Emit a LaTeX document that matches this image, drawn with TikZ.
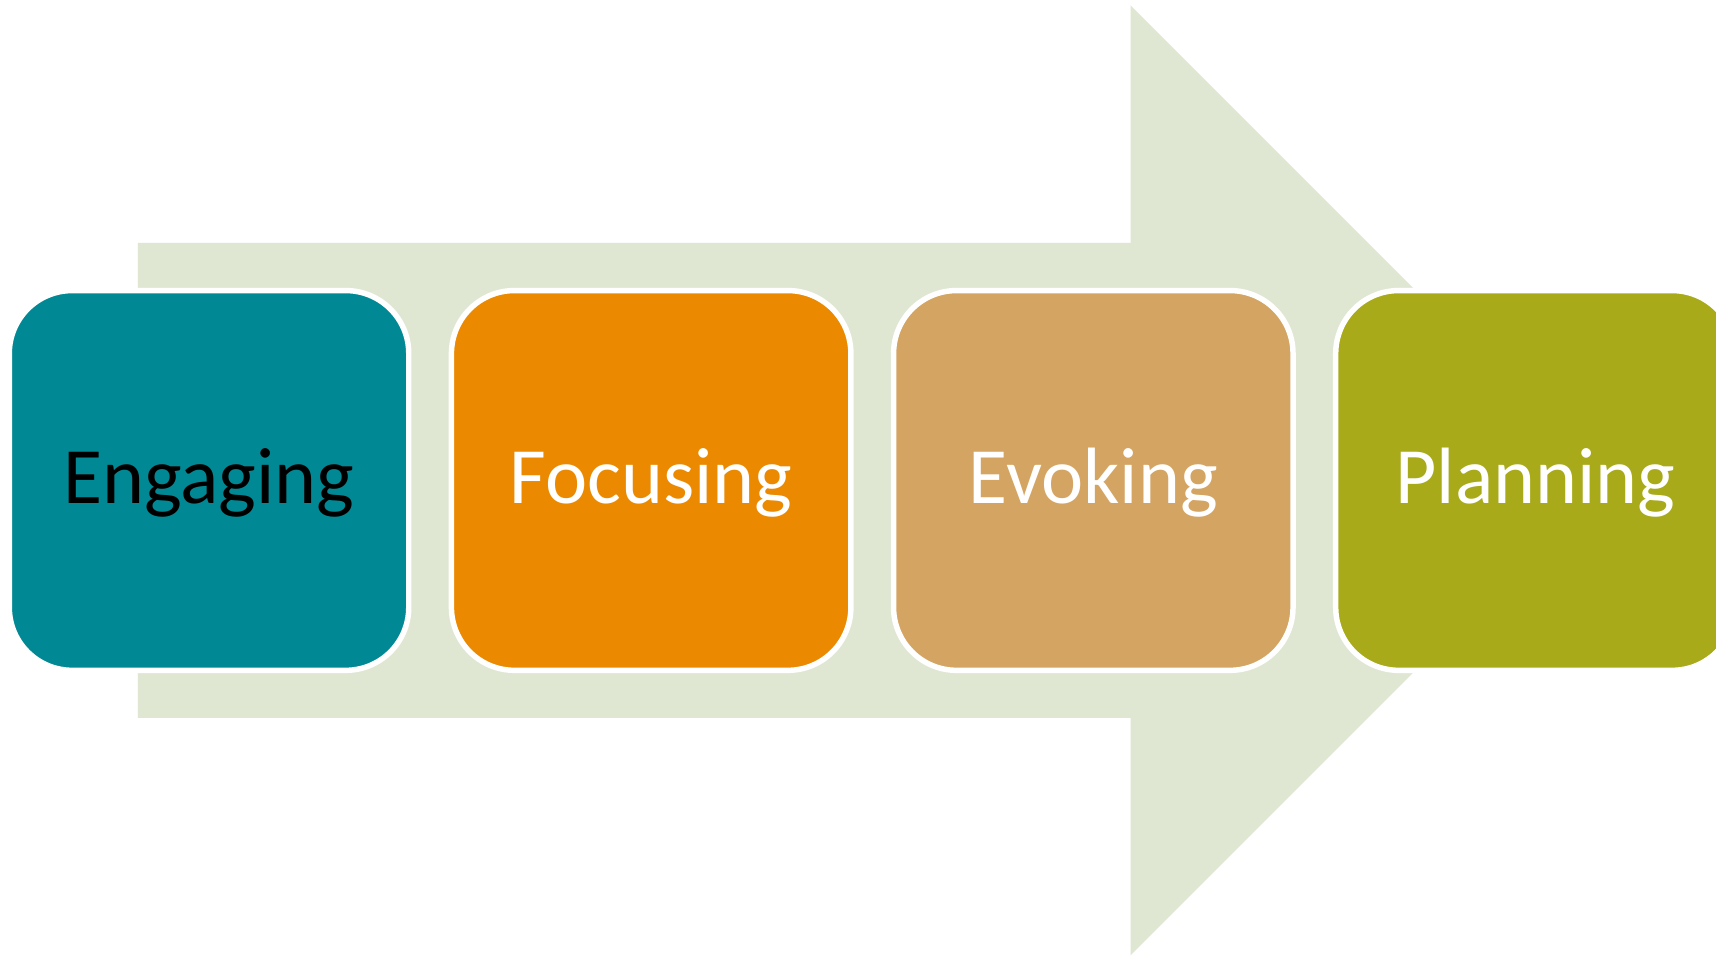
\documentclass[tikz,border=0pt]{standalone}
\usepackage{fontspec}
\setmainfont{Carlito}
\definecolor{arrowgreen}{HTML}{DFE7D3}
\definecolor{teal1}{HTML}{008994}
\definecolor{orange1}{HTML}{EB8A00}
\definecolor{tan1}{HTML}{D4A462}
\definecolor{olive1}{HTML}{A8AA1A}
\tikzset{
  stagebox/.style={rectangle, rounded corners=57.5pt, draw=white, line width=5pt,
    minimum width=365pt, minimum height=347pt, inner sep=0pt,
    font=\fontsize{73}{80}\selectfont, text height=56pt, text depth=14pt},
  bigarrow/.style={fill=arrowgreen, draw=none}
}
\begin{document}
\begin{tikzpicture}[x=1pt,y=-1pt]
\useasboundingbox (0,0) rectangle (1568,873);
\clip (0,0) rectangle (1568,873);
\fill[white] (0,0) rectangle (1568,873);
\path[bigarrow] (126,222) -- (1033,222) -- (1033,5) -- (1467,439) -- (1033,873) -- (1033,656) -- (126,656) -- cycle;
\node[stagebox, fill=teal1, text=black] (engaging) at (191,439) {Engaging};
\node[stagebox, fill=orange1, text=white] (focusing) at (595,439) {Focusing};
\node[stagebox, fill=tan1, text=white] (evoking) at (999,439) {Evoking};
\node[stagebox, fill=olive1, text=white] (planning) at (1403,439) {Planning};
\end{tikzpicture}
\end{document}
